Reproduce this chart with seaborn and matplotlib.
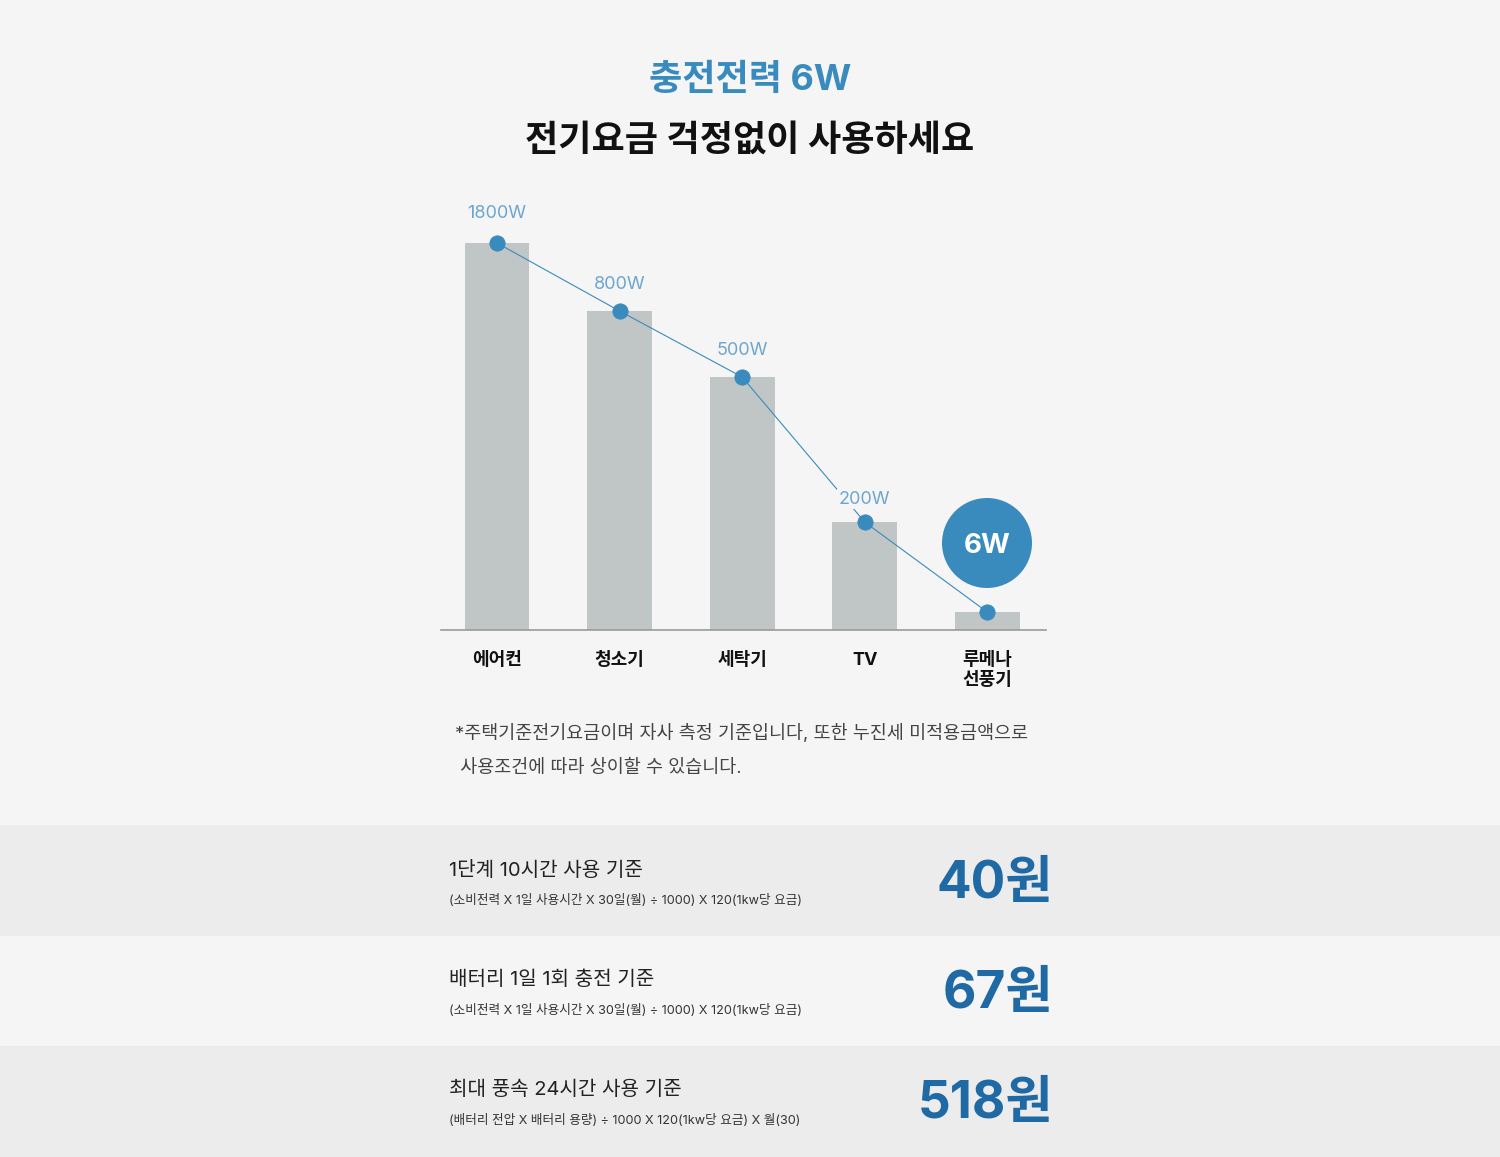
import matplotlib
matplotlib.use("Agg")
import matplotlib.pyplot as plt
import matplotlib.patches as mpatches
import seaborn as sns
import pandas as pd

# ---------------- data ----------------
categories = ["에어컨", "청소기", "세탁기", "TV", "루메나\n선풍기"]
watts = [1800, 800, 500, 200, 6]
# visual bar heights as drawn in the reference (not proportional to watts)
bar_heights = [387, 319, 253, 108, 18]
title_top = "충전전력 6W"
title_main = "전기요금 걱정없이 사용하세요"
note_lines = ["*주택기준전기요금이며 자사 측정 기준입니다, 또한 누진세 미적용금액으로",
              " 사용조건에 따라 상이할 수 있습니다."]
row_titles = ["1단계 10시간 사용 기준", "배터리 1일 1회 충전 기준", "최대 풍속 24시간 사용 기준"]
row_formulas = ["(소비전력 X 1일 사용시간 X 30일(월) ÷ 1000) X 120(1kw당 요금)",
                "(소비전력 X 1일 사용시간 X 30일(월) ÷ 1000) X 120(1kw당 요금)",
                "(배터리 전압 X 배터리 용량) ÷ 1000 X 120(1kw당 요금) X 월(30)"]
row_values = ["40원", "67원", "518원"]

# ---------------- style ----------------
sns.set_theme(style="white")
plt.rcParams['font.family'] = ['Inter', 'Noto Sans CJK KR', 'DejaVu Sans']

BG = "#f5f5f5"
BAND = "#ececec"
BLUE = "#3a8bbd"
LBLUE = "#6ea6cf"
DBLUE = "#1f6aa5"
BAR = "#c0c5c6"

W, H = 1500, 1157
fig = plt.figure(figsize=(W / 100, H / 100), dpi=100, facecolor=BG)

def fx(px):
    return px / W

def fy(py):
    return 1 - py / H

# background bands
bg_ax = fig.add_axes([0, 0, 1, 1], zorder=0)
bg_ax.set_xlim(0, W)
bg_ax.set_ylim(H, 0)
bg_ax.axis("off")
bg_ax.set_facecolor(BG)
band_spans = [(825, 936, BAND), (936, 1046, BG), (1046, 1157, BAND)]
for y0, y1, c in band_spans:
    bg_ax.add_patch(mpatches.Rectangle((0, y0), W, y1 - y0, color=c, lw=0))

# titles
fig.text(0.5, fy(80), title_top, ha="center", va="center", fontsize=26,
         fontweight="bold", color=BLUE)
fig.text(0.5, fy(141), title_main, ha="center", va="center", fontsize=26,
         fontweight="bold", color="#111111")

# ---------------- chart ----------------
ax_top, ax_bot = 200, 630
ax = fig.add_axes([fx(441), fy(ax_bot), fx(1046) - fx(441), (ax_bot - ax_top) / H], zorder=2)
ax.set_facecolor("none")
df = pd.DataFrame({"cat": categories, "h": bar_heights, "w": watts})
sns.barplot(data=df, x="cat", y="h", color=BAR, width=0.53, saturation=1,
            edgecolor="none", ax=ax, zorder=2)
sns.pointplot(data=df, x="cat", y="h", color=BLUE, markersize=11, linewidth=0.8,
              ax=ax, zorder=4)
ax.set_xlim(-0.457, 4.48)
ax.set_ylim(0, ax_bot - ax_top)
for s in ["top", "right", "left"]:
    ax.spines[s].set_visible(False)
ax.spines["bottom"].set_color("#9a9a9a")
ax.spines["bottom"].set_linewidth(1.2)
ax.set_yticks([])
ax.set_xlabel("")
ax.set_ylabel("")
ax.tick_params(axis="x", length=0, pad=15.5)
ax.set_xticks(range(len(categories)))
ax.set_xticklabels(categories, fontsize=13, color="#111111", fontweight="bold",
                   va="top", linespacing=1.3)

offsets = [30, 27, 27, 23]
for i, (w, h) in enumerate(zip(watts, bar_heights)):
    if i < len(watts) - 1:
        ax.annotate(f"{w}W", (i, h), xytext=(0, offsets[i] * 0.72), textcoords="offset points",
                    ha="center", va="center", fontsize=13, color=LBLUE, zorder=5,
                    bbox=dict(boxstyle="square,pad=0.1", fc=BG, ec="none"))

# 6W highlight circle
circ_ax = fig.add_axes([0, 0, 1, 1], zorder=3)
circ_ax.set_xlim(0, W)
circ_ax.set_ylim(H, 0)
circ_ax.axis("off")
circ_ax.set_facecolor("none")
circ_ax.add_patch(mpatches.Circle((987, 543), 45, color=BLUE, lw=0))
circ_ax.text(987, 546, f"{watts[-1]}W", ha="center", va="center", fontsize=20,
             fontweight="bold", color="white")

# note
fig.text(fx(455), fy(734), note_lines[0], ha="left", va="center", fontsize=13.3, color="#444444")
fig.text(fx(455), fy(768), note_lines[1], ha="left", va="center", fontsize=13.3, color="#444444")

# rows
row_centers = [880, 990, 1100]
for yc, t, f, v in zip(row_centers, row_titles, row_formulas, row_values):
    fig.text(fx(449), fy(yc - 10), t, ha="left", va="center", fontsize=14.5, color="#222222")
    fig.text(fx(449), fy(yc + 20), f, ha="left", va="center", fontsize=9.1, color="#333333")
    fig.text(fx(1053), fy(yc + 5), v, ha="right", va="center", fontsize=37,
             fontweight="bold", color=DBLUE)

fig.savefig("out.png", dpi=100, facecolor=BG)
